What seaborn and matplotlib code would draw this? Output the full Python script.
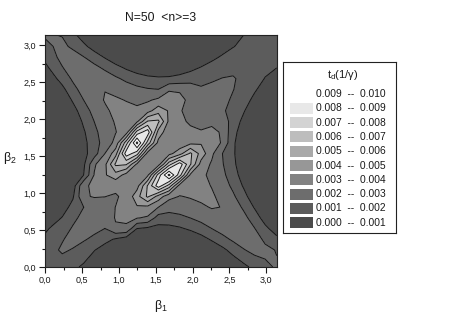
import numpy as np
import matplotlib
matplotlib.use("Agg")
import matplotlib.pyplot as plt
from matplotlib.patches import Rectangle
import seaborn as sns

# grid nodes along beta1 and beta2 (rad), same for both axes
beta = [0.0, 0.230, 0.375, 0.520, 0.665, 0.810, 0.955, 1.100, 1.245, 1.390, 1.535,
        1.680, 1.825, 1.970, 2.115, 2.260, 2.405, 2.550, 2.695, 2.840, 2.985, 3.1416]

# t_d, in units of 1e-3 / gamma.
# map is symmetric under beta1 <-> beta2, so only row j, columns 0..j are listed
td_rows = [
    [1.87],
    [1.55, 2.13],
    [1.20, 1.94, 2.28],
    [0.85, 1.54, 2.11, 2.44],
    [0.20, 1.05, 1.76, 2.29, 2.60],
    [0.20, 0.53, 1.33, 1.99, 2.48, 2.76],
    [0.20, 0.20, 0.88, 2.90, 3.06, 3.01, 2.92],
    [0.20, 0.20, 0.48, 2.85, 3.17, 3.45, 3.20, 3.08],
    [0.20, 0.20, 0.20, 1.00, 3.06, 3.90, 4.60, 3.60, 3.24],
    [0.20, 0.20, 0.20, 0.79, 2.86, 3.75, 6.20, 6.10, 3.80, 3.40],
    [0.20, 0.20, 0.20, 0.69, 1.54, 3.01, 4.60, 8.60, 7.40, 3.55, 3.56],
    [0.20, 0.20, 0.20, 0.69, 1.63, 2.36, 3.30, 6.60, 10.3, 6.60, 3.69, 3.43],
    [0.20, 0.20, 0.20, 0.87, 1.77, 2.46, 2.96, 3.55, 7.40, 8.60, 4.60, 3.29, 3.20],
    [0.20, 0.20, 0.20, 1.17, 2.01, 2.64, 3.08, 3.34, 3.80, 6.10, 6.20, 3.75, 3.03, 2.98],
    [0.20, 0.20, 0.60, 1.56, 2.32, 2.86, 3.20, 3.27, 3.18, 3.60, 4.60, 3.90, 3.06, 2.77, 2.75],
    [0.20, 0.20, 1.13, 2.00, 2.64, 3.06, 3.12, 2.96, 2.80, 2.87, 3.20, 3.45, 3.17, 2.85, 2.51, 2.53],
    [0.20, 0.74, 1.68, 2.41, 2.91, 2.98, 2.75, 2.48, 2.23, 2.07, 2.00, 2.90, 2.92, 2.75, 2.14, 2.27, 2.30],
    [0.20, 1.38, 2.17, 2.72, 2.82, 2.54, 2.16, 1.78, 1.47, 1.25, 1.15, 1.14, 1.26, 1.44, 1.65, 1.86, 2.03, 2.07],
    [0.75, 1.94, 2.52, 2.62, 2.28, 1.83, 1.34, 0.87, 0.50, 0.25, 0.20, 0.38, 0.55, 0.78, 1.06, 1.36, 1.62, 1.80, 1.85],
    [1.27, 2.32, 2.42, 2.04, 1.52, 0.92, 0.34, 0.20, 0.20, 0.20, 0.20, 0.20, 0.20, 0.20, 0.44, 0.78, 1.12, 1.40, 1.58, 1.62],
    [1.81, 2.22, 1.82, 1.24, 0.57, 0.20, 0.20, 0.20, 0.20, 0.20, 0.20, 0.20, 0.20, 0.20, 0.20, 0.20, 0.62, 0.96, 1.23, 1.38, 1.39],
    [2.10, 1.95, 1.25, 0.50, 0.20, 0.20, 0.20, 0.20, 0.20, 0.20, 0.20, 0.20, 0.20, 0.20, 0.20, 0.20, 0.20, 0.53, 1.00, 1.10, 1.19, 1.15],
]

levels = [0.000, 0.001, 0.002, 0.003, 0.004, 0.005, 0.006, 0.007, 0.008, 0.009, 0.010]
fill_colors = ['#4b4b4b', '#5c5c5c', '#6d6d6d', '#828282', '#979797',
               '#a9a9a9', '#bdbdbd', '#d3d3d3', '#e8e8e8', '#ffffff']
tick_vals = [0.0, 0.5, 1.0, 1.5, 2.0, 2.5, 3.0]
tick_labels = ['0,0', '0,5', '1,0', '1,5', '2,0', '2,5', '3,0']

# ── full symmetric matrix ─────────────────────────────────────────
n = len(beta)
td = np.zeros((n, n))
for j, row in enumerate(td_rows):
    td[j, :len(row)] = row
    td[:len(row), j] = row
td = td * 1e-3

sns.set_theme(style="ticks")
plt.rcParams['font.family'] = ['Liberation Sans', 'DejaVu Sans']
plt.rcParams['mathtext.fontset'] = 'custom'
plt.rcParams['mathtext.rm'] = 'Liberation Sans'

fig = plt.figure(figsize=(4.67, 3.26), dpi=100)
ax = fig.add_axes([0.097, 0.181, 0.4955, 0.712])

ax.contourf(beta, beta, td, levels=levels, colors=fill_colors)
ax.contour(beta, beta, td, levels=levels[1:], colors='#151515', linewidths=0.7)

ax.set_xlim(0, np.pi)
ax.set_ylim(0, np.pi)
ax.set_xticks(tick_vals)
ax.set_xticklabels(tick_labels)
ax.set_yticks(tick_vals)
ax.set_yticklabels(tick_labels)
ax.set_xticks(np.arange(0.25, 3.1, 0.5), minor=True)
ax.set_yticks(np.arange(0.25, 3.1, 0.5), minor=True)
ax.tick_params(which='major', direction='out', length=4, width=0.8, labelsize=6.5,
               pad=2.5, color='k', labelcolor='k')
ax.tick_params(which='minor', direction='out', length=2, width=0.8, color='k')
for sp in ax.spines.values():
    sp.set_color('#222222')
    sp.set_linewidth(0.8)

ax.set_xlabel('β$_\\mathregular{1}$', fontsize=9, color='k')
ax.xaxis.set_label_coords(0.5, -0.135)
ax.set_ylabel('β$_\\mathregular{2}$', fontsize=9, color='k', rotation=0, va='center', ha='center')
ax.yaxis.set_label_coords(-0.155, 0.47)
ax.text(0.5, 1.073, 'N=50  <n>=3', transform=ax.transAxes, ha='center', va='center',
        fontsize=8.7, color='k')

# ── legend box (drawn in its own axes, pixel units) ───────────────
lax = fig.add_axes([0.6066, 0.2862, 0.2413, 0.5245])
lax.set_xlim(0, 112.7)
lax.set_ylim(171, 0)
lax.set_xticks([])
lax.set_yticks([])
for sp in lax.spines.values():
    sp.set_color('#222222')
    sp.set_linewidth(0.8)
lax.text(59.7, 13.3, 't$_\\mathregular{d}$(1/γ)', ha='center', va='center', fontsize=8, color='k')
for row, k in enumerate(range(len(fill_colors) - 1, -1, -1)):
    yc = 32.3 + 14.3 * row
    lax.add_patch(Rectangle((6.7, yc - 5.5), 23.3, 11, facecolor=fill_colors[k], edgecolor='none'))
    lax.text(32.7, yc, f'{levels[k]:.3f}  --  {levels[k + 1]:.3f}', ha='left', va='center',
             fontsize=7.4, color='k')

fig.savefig('out.png', dpi=100)
